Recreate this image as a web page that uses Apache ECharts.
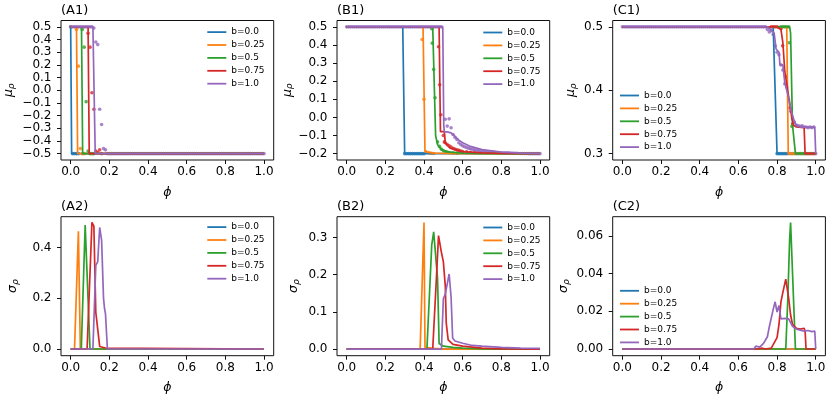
<!DOCTYPE html>
<html><head><meta charset="utf-8">
<script src="https://cdn.jsdelivr.net/npm/echarts@6/dist/echarts.min.js"></script>
<style>html,body{margin:0;padding:0;background:#fff}#c{width:830px;height:399px}</style>
</head><body><div id="c"></div>
<script>
// ---------------- DATA ----------------
const bLabels = ['b=0.0', 'b=0.25', 'b=0.5', 'b=0.75', 'b=1.0'];
const bColors = ['#1f77b4', '#ff7f0e', '#2ca02c', '#d62728', '#9467bd'];
const panelTitles = ['(A1)', '(B1)', '(C1)', '(A2)', '(B2)', '(C2)'];
const xTicks = [0, 0.2, 0.4, 0.6, 0.8, 1.0];
const A1_yTicks = [-0.5, -0.4, -0.3, -0.2, -0.1, 0, 0.1, 0.2, 0.3, 0.4, 0.5];
const B1_yTicks = [-0.2, -0.1, 0, 0.1, 0.2, 0.3, 0.4, 0.5];
const C1_yTicks = [0.3, 0.4, 0.5];
const A2_yTicks = [0, 0.2, 0.4];
const B2_yTicks = [0, 0.1, 0.2, 0.3];
const C2_yTicks = [0, 0.02, 0.04, 0.06];

// (A1) mu_rho lines
const A1_lines = [
  [[0,0.5],[0.005,-0.5],[1,-0.5]],
  [[0,0.5],[0.03,0.5],[0.036,-0.5],[1,-0.5]],
  [[0,0.5],[0.056,0.5],[0.062,-0.5],[1,-0.5]],
  [[0,0.5],[0.09,0.5],[0.096,-0.5],[1,-0.5]],
  [[0,0.5],[0.115,0.5],[0.12,0.49],[0.127,-0.5],[1,-0.5]]
];
// (A1) mu_rho dots
const A1_dots = [
  [[0,0.5],[0.01,-0.5],[0.02,-0.5],[0.03,-0.5],[0.04,-0.5]],
  [[0.03,0.48],[0.04,0.19],[0.05,-0.46],[0.06,-0.5],[0.07,-0.5]],
  [[0.06,0.48],[0.07,0.34],[0.08,-0.09],[0.09,-0.48],[0.1,-0.5],[0.11,-0.5],[0.12,-0.5]],
  [[0.09,0.45],[0.1,0.34],[0.11,-0.02],[0.12,-0.15],[0.13,-0.48],[0.14,-0.49],[0.15,-0.47],[0.16,-0.5]],
  [[0,0.5],[0.01,0.5],[0.02,0.5],[0.03,0.5],[0.04,0.5],[0.05,0.5],[0.06,0.5],[0.07,0.5],[0.08,0.5],[0.09,0.5],[0.1,0.5],[0.11,0.5],[0.12,0.49],[0.13,0.38],[0.14,0.36],[0.15,-0.15],[0.16,-0.27],[0.17,-0.46],[0.18,-0.47],
   [0.19,-0.5],[0.2,-0.5],[0.21,-0.5],[0.22,-0.5],[0.23,-0.5],[0.24,-0.5],[0.25,-0.5],[0.26,-0.5],[0.27,-0.5],[0.28,-0.5],[0.29,-0.5],[0.3,-0.5],[0.31,-0.5],[0.32,-0.5],[0.33,-0.5],[0.34,-0.5],[0.35,-0.5],[0.36,-0.5],[0.37,-0.5],[0.38,-0.5],[0.39,-0.5],[0.4,-0.5],[0.41,-0.5],[0.42,-0.5],[0.43,-0.5],[0.44,-0.5],[0.45,-0.5],[0.46,-0.5],[0.47,-0.5],[0.48,-0.5],[0.49,-0.5],[0.5,-0.5],[0.51,-0.5],[0.52,-0.5],[0.53,-0.5],[0.54,-0.5],[0.55,-0.5],[0.56,-0.5],[0.57,-0.5],[0.58,-0.5],[0.59,-0.5],[0.6,-0.5],[0.61,-0.5],[0.62,-0.5],[0.63,-0.5],[0.64,-0.5],[0.65,-0.5],[0.66,-0.5],[0.67,-0.5],[0.68,-0.5],[0.69,-0.5],[0.7,-0.5],[0.71,-0.5],[0.72,-0.5],[0.73,-0.5],[0.74,-0.5],[0.75,-0.5],[0.76,-0.5],[0.77,-0.5],[0.78,-0.5],[0.79,-0.5],[0.8,-0.5],[0.81,-0.5],[0.82,-0.5],[0.83,-0.5],[0.84,-0.5],[0.85,-0.5],[0.86,-0.5],[0.87,-0.5],[0.88,-0.5],[0.89,-0.5],[0.9,-0.5],[0.91,-0.5],[0.92,-0.5],[0.93,-0.5],[0.94,-0.5],[0.95,-0.5],[0.96,-0.5],[0.97,-0.5],[0.98,-0.5],[0.99,-0.5],[1,-0.5]]
];

// (B1) mu_rho lines
const B1_lines = [
  [[0,0.5],[0.29,0.5],[0.3,-0.2],[1,-0.2]],
  [[0,0.5],[0.395,0.5],[0.405,-0.185],[0.42,-0.193],[0.45,-0.197],[0.55,-0.2],[1,-0.2]],
  [[0,0.5],[0.445,0.5],[0.45,0.3],[0.455,0.1],[0.46,-0.1],[0.47,-0.15],[0.49,-0.178],[0.52,-0.19],[0.6,-0.197],[0.7,-0.2],[1,-0.2]],
  [[0,0.5],[0.478,0.5],[0.485,-0.078],[0.505,-0.078],[0.51,-0.14],[0.535,-0.17],[0.6,-0.189],[0.7,-0.196],[0.8,-0.199],[1,-0.2]],
  [[0,0.5],[0.497,0.5],[0.502,-0.04],[0.505,-0.08],[0.52,-0.08],[0.54,-0.085],[0.56,-0.105],[0.58,-0.125],[0.6,-0.14],[0.64,-0.16],[0.7,-0.178],[0.8,-0.191],[0.9,-0.197],[1,-0.2]]
];
// (B1) mu_rho dots
const B1_dots = [
  [[0.3,-0.2],[0.31,-0.2],[0.32,-0.2],[0.33,-0.2],[0.34,-0.2],[0.35,-0.2],[0.36,-0.2],[0.37,-0.2],[0.38,-0.2],[0.39,-0.2],[0.4,-0.2]],
  [[0.39,0.43],[0.4,0.1],[0.41,-0.19],[0.42,-0.195],[0.43,-0.197],[0.44,-0.198],[0.45,-0.199]],
  [[0.44,0.49],[0.443,0.41],[0.45,0.265],[0.457,0.108],[0.47,-0.135],[0.48,-0.16],[0.49,-0.175],[0.5,-0.183],[0.51,-0.188],[0.52,-0.191],[0.53,-0.194],[0.55,-0.196],[0.57,-0.198]],
  [[0.475,0.39],[0.481,0.18],[0.487,0.015],[0.5,-0.1],[0.505,-0.135],[0.51,-0.14],[0.52,-0.15],[0.53,-0.157],[0.54,-0.164],[0.55,-0.17],[0.56,-0.175],[0.57,-0.179],[0.58,-0.182],[0.59,-0.185],[0.6,-0.188],[0.62,-0.19],[0.64,-0.193],[0.66,-0.195]],
  [[0,0.5],[0.01,0.5],[0.02,0.5],[0.03,0.5],[0.04,0.5],[0.05,0.5],[0.06,0.5],[0.07,0.5],[0.08,0.5],[0.09,0.5],[0.1,0.5],[0.11,0.5],[0.12,0.5],[0.13,0.5],[0.14,0.5],[0.15,0.5],[0.16,0.5],[0.17,0.5],[0.18,0.5],[0.19,0.5],[0.2,0.5],[0.21,0.5],[0.22,0.5],[0.23,0.5],[0.24,0.5],[0.25,0.5],[0.26,0.5],[0.27,0.5],[0.28,0.5],[0.29,0.5],[0.3,0.5],[0.31,0.5],[0.32,0.5],[0.33,0.5],[0.34,0.5],[0.35,0.5],[0.36,0.5],[0.37,0.5],[0.38,0.5],[0.39,0.5],[0.4,0.5],[0.41,0.5],[0.42,0.5],[0.43,0.5],[0.44,0.5],[0.45,0.5],[0.46,0.5],[0.47,0.5],[0.48,0.5],[0.49,0.5],
   [0.51,-0.01],[0.52,-0.048],[0.53,-0.008],[0.54,-0.057],[0.55,-0.094],[0.56,-0.11],[0.57,-0.122],[0.58,-0.14],[0.59,-0.15],[0.6,-0.157],[0.61,-0.162],[0.62,-0.166],[0.63,-0.17],[0.64,-0.173],[0.65,-0.176],[0.66,-0.179],[0.67,-0.181],[0.68,-0.183],[0.69,-0.185],[0.7,-0.187],[0.71,-0.188],[0.72,-0.19],[0.73,-0.191],[0.74,-0.192],[0.75,-0.193],[0.76,-0.193],[0.77,-0.194],[0.78,-0.195],[0.79,-0.195],[0.8,-0.196],[0.81,-0.196],[0.82,-0.197],[0.83,-0.197],[0.84,-0.197],[0.85,-0.198],[0.86,-0.198],[0.87,-0.198],[0.88,-0.198],[0.89,-0.199],[0.9,-0.199],[0.91,-0.199],[0.92,-0.199],[0.93,-0.199],[0.94,-0.2],[0.95,-0.2],[0.96,-0.2],[0.97,-0.2],[0.98,-0.2],[0.99,-0.2],[1,-0.2]]
];

// (C1) mu_rho lines
const C1_lines = [
  [[0,0.5],[0.78,0.5],[0.8,0.3],[1,0.3]],
  [[0,0.5],[0.85,0.5],[0.858,0.3],[1,0.3]],
  [[0,0.5],[0.865,0.5],[0.87,0.49],[0.876,0.4],[0.88,0.345],[0.888,0.342],[0.895,0.3],[1,0.3]],
  [[0,0.5],[0.8,0.5],[0.82,0.496],[0.83,0.475],[0.84,0.43],[0.85,0.41],[0.865,0.38],[0.876,0.357],[0.885,0.345],[0.9,0.342],[0.94,0.341],[0.945,0.3],[1,0.3]],
  [[0,0.5],[0.75,0.5],[0.77,0.495],[0.785,0.49],[0.795,0.465],[0.81,0.46],[0.815,0.44],[0.83,0.44],[0.84,0.412],[0.85,0.41],[0.86,0.388],[0.87,0.372],[0.88,0.36],[0.89,0.35],[0.9,0.344],[0.92,0.342],[0.95,0.342],[0.995,0.342],[1,0.3]]
];
// (C1) mu_rho dots
const C1_dots = [
  [[0.8,0.3],[0.81,0.3],[0.82,0.3],[0.83,0.3],[0.84,0.3],[0.85,0.3]],
  [[0.86,0.3],[0.87,0.3],[0.88,0.3],[0.89,0.3]],
  [[0.82,0.5],[0.83,0.5],[0.84,0.5],[0.85,0.5],[0.86,0.5],[0.863,0.475],[0.877,0.343],[0.9,0.3],[0.91,0.3],[0.92,0.3],[0.93,0.3],[0.94,0.3]],
  [[0.77,0.5],[0.78,0.5],[0.79,0.5],[0.8,0.5],[0.81,0.499],[0.82,0.497],[0.829,0.47],[0.845,0.422],[0.867,0.372],[0.88,0.347],[0.95,0.3],[0.96,0.3],[0.97,0.3],[0.98,0.3],[0.99,0.3]],
  [[0,0.5],[0.01,0.5],[0.02,0.5],[0.03,0.5],[0.04,0.5],[0.05,0.5],[0.06,0.5],[0.07,0.5],[0.08,0.5],[0.09,0.5],[0.1,0.5],[0.11,0.5],[0.12,0.5],[0.13,0.5],[0.14,0.5],[0.15,0.5],[0.16,0.5],[0.17,0.5],[0.18,0.5],[0.19,0.5],[0.2,0.5],[0.21,0.5],[0.22,0.5],[0.23,0.5],[0.24,0.5],[0.25,0.5],[0.26,0.5],[0.27,0.5],[0.28,0.5],[0.29,0.5],[0.3,0.5],[0.31,0.5],[0.32,0.5],[0.33,0.5],[0.34,0.5],[0.35,0.5],[0.36,0.5],[0.37,0.5],[0.38,0.5],[0.39,0.5],[0.4,0.5],[0.41,0.5],[0.42,0.5],[0.43,0.5],[0.44,0.5],[0.45,0.5],[0.46,0.5],[0.47,0.5],[0.48,0.5],[0.49,0.5],[0.5,0.5],[0.51,0.5],[0.52,0.5],[0.53,0.5],[0.54,0.5],[0.55,0.5],[0.56,0.5],[0.57,0.5],[0.58,0.5],[0.59,0.5],[0.6,0.5],[0.61,0.5],[0.62,0.5],[0.63,0.5],[0.64,0.5],[0.65,0.5],[0.66,0.5],[0.67,0.5],[0.68,0.5],[0.69,0.5],[0.7,0.5],[0.71,0.5],[0.72,0.5],[0.73,0.5],[0.74,0.5],
   [0.75,0.496],[0.76,0.492],[0.77,0.494],[0.78,0.488],[0.79,0.47],[0.8,0.46],[0.81,0.456],[0.82,0.44],[0.83,0.432],[0.84,0.41],[0.85,0.405],[0.86,0.385],[0.87,0.367],[0.88,0.355],[0.89,0.35],[0.9,0.345],[0.91,0.344],[0.92,0.343],[0.93,0.344],[0.94,0.342],[0.95,0.342],[0.96,0.341],[0.97,0.342],[0.98,0.341],[0.99,0.342],[1,0.3]]
];

// (A2) sigma_rho lines
const A2_lines = [
  [[0,0],[1,0]],
  [[0,0],[0.02,0],[0.04,0.465],[0.05,0],[1,0]],
  [[0,0],[0.055,0],[0.075,0.49],[0.08,0.495],[0.1,0],[1,0]],
  [[0,0],[0.085,0],[0.11,0.5],[0.12,0.485],[0.13,0.145],[0.14,0.145],[0.15,0.01],[0.18,0.004],[0.19,0],[1,0]],
  [[0,0],[0.115,0],[0.13,0.33],[0.14,0.345],[0.15,0.48],[0.16,0.43],[0.17,0.2],[0.175,0.16],[0.18,0.14],[0.19,0],[1,0]]
];
// (B2) sigma_rho lines
const B2_lines = [
  [[0,0],[1,0]],
  [[0,0],[0.38,0],[0.4,0.34],[0.405,0.005],[0.45,0.002],[0.5,0],[1,0]],
  [[0,0],[0.415,0],[0.44,0.28],[0.45,0.315],[0.46,0.318],[0.47,0.19],[0.478,0.015],[0.5,0.008],[0.55,0.005],[0.6,0.003],[0.7,0.001],[0.8,0],[1,0]],
  [[0,0],[0.445,0],[0.465,0.2],[0.475,0.305],[0.48,0.3],[0.49,0.26],[0.5,0.235],[0.51,0.17],[0.515,0.07],[0.525,0.025],[0.55,0.013],[0.6,0.008],[0.7,0.003],[0.8,0.001],[1,0]],
  [[0,0],[0.49,0],[0.5,0.135],[0.51,0.148],[0.52,0.15],[0.53,0.202],[0.54,0.14],[0.548,0.03],[0.56,0.022],[0.6,0.016],[0.65,0.01],[0.7,0.008],[0.8,0.005],[0.9,0.003],[1,0.002]]
];
// (C2) sigma_rho lines
const C2_lines = [
  [[0,0],[1,0]],
  [[0,0],[1,0]],
  [[0,0],[0.845,0],[0.855,0.025],[0.865,0.058],[0.87,0.067],[0.895,0],[1,0]],
  [[0,0],[0.7,0],[0.72,0.0005],[0.74,0],[0.77,0.0005],[0.78,0.001],[0.8,0.006],[0.81,0.013],[0.82,0.025],[0.83,0.03],[0.845,0.037],[0.85,0.038],[0.86,0.027],[0.87,0.018],[0.88,0.013],[0.9,0.011],[0.92,0.0105],[0.93,0.01],[0.94,0.011],[0.945,0.0095],[0.95,0],[1,0]],
  [[0,0],[0.64,0],[0.65,0.0008],[0.66,0],[0.68,0],[0.69,0.0015],[0.7,0.0005],[0.71,0.001],[0.72,0.0005],[0.73,0.003],[0.74,0.004],[0.75,0.0065],[0.76,0.0118],[0.77,0.0118],[0.78,0.021],[0.79,0.025],[0.8,0.0196],[0.81,0.023],[0.82,0.016],[0.83,0.0165],[0.84,0.0162],[0.85,0.017],[0.86,0.016],[0.87,0.0153],[0.88,0.012],[0.89,0.011],[0.9,0.0105],[0.91,0.0102],[0.92,0.01],[0.93,0.0098],[0.94,0.0095],[0.95,0.0092],[0.96,0.0098],[0.97,0.0101],[0.98,0.0092],[0.99,0.0098],[0.995,0.0095],[1,0]]
];

// ---------------- LAYOUT ----------------
const FONT = 'DejaVu Sans';
const gridLefts = [61, 337, 612.7];
const gridTops = [20.5, 216.7];
const gridW = 212.7, gridHs = [139.5, 139];
const panels = [
  {lines: A1_lines, dots: A1_dots, yTicks: A1_yTicks, yMin: -0.55, yMax: 0.55, dec: 1, sym: 'μ', gap: 45, legL: 207.3, legT: 27.6},
  {lines: B1_lines, dots: B1_dots, yTicks: B1_yTicks, yMin: -0.235, yMax: 0.535, dec: 1, sym: 'μ', gap: 42, legL: 483.3, legT: 28},
  {lines: C1_lines, dots: C1_dots, yTicks: C1_yTicks, yMin: 0.29, yMax: 0.51, dec: 1, sym: 'μ', gap: 35, legL: 620, legT: 91},
  {lines: A2_lines, dots: null, yTicks: A2_yTicks, yMin: -0.0265, yMax: 0.5225, dec: 1, sym: 'σ', gap: 41, legL: 207.3, legT: 222.6},
  {lines: B2_lines, dots: null, yTicks: B2_yTicks, yMin: -0.0175, yMax: 0.3557, dec: 1, sym: 'σ', gap: 36, legL: 483.3, legT: 223},
  {lines: C2_lines, dots: null, yTicks: C2_yTicks, yMin: -0.00355, yMax: 0.0701, dec: 2, sym: 'σ', gap: 42, legL: 620, legT: 286.3}
];

function fmt(v, d) {
  const s = Math.abs(v).toFixed(d);
  return (v < -1e-9 ? '\u2212' : '') + s;
}

const grid = [], xAxis = [], yAxis = [], series = [], legend = [], title = [];
panels.forEach((p, i) => {
  const col = i % 3, row = Math.floor(i / 3);
  grid.push({left: gridLefts[col], top: gridTops[row], width: gridW, height: gridHs[row],
    show: true, borderColor: '#111', borderWidth: 1, backgroundColor: 'transparent', containLabel: false});
  xAxis.push({type: 'value', gridIndex: i, min: -0.05, max: 1.05, position: 'bottom',
    axisLine: {show: false, onZero: false},
    axisTick: {show: true, inside: false, length: 4, customValues: xTicks, lineStyle: {color: '#111', width: 1}},
    axisLabel: {customValues: xTicks, formatter: v => fmt(v, 1), fontSize: 12, fontFamily: FONT, color: '#000', margin: 6},
    splitLine: {show: false},
    name: 'ϕ', nameLocation: 'middle', nameGap: 26,
    nameTextStyle: {fontFamily: FONT, fontSize: 12.5, fontStyle: 'italic', color: '#000'}
  });
  yAxis.push({type: 'value', gridIndex: i, min: p.yMin, max: p.yMax, position: 'left',
    axisLine: {show: false, onZero: false},
    axisTick: {show: true, inside: false, length: 4, customValues: p.yTicks, lineStyle: {color: '#111', width: 1}},
    axisLabel: {customValues: p.yTicks, formatter: v => fmt(v, p.dec), fontSize: 12, fontFamily: FONT, color: '#000', margin: 9.5},
    splitLine: {show: false},
    name: '{m|' + p.sym + '}{s|ρ}', nameLocation: 'middle', nameGap: p.gap, nameRotate: 90,
    nameTextStyle: {fontFamily: FONT, color: '#000', rich: {
      m: {fontFamily: FONT, fontSize: 12.5, fontStyle: 'italic', color: '#000', lineHeight: 14},
      s: {fontFamily: FONT, fontSize: 9, fontStyle: 'italic', color: '#000', lineHeight: 8, verticalAlign: 'bottom'}
    }}
  });
  title.push({text: panelTitles[i], left: gridLefts[col], top: gridTops[row] - 16.5, padding: 0,
    textStyle: {fontFamily: FONT, fontSize: 13, fontWeight: 'normal', color: '#000'}});
  legend.push({data: bLabels, orient: 'vertical', left: p.legL, top: p.legT, padding: 0,
    icon: 'rect', itemWidth: 19, itemHeight: 1.8, itemGap: 3.9, selectedMode: false,
    textStyle: {fontFamily: FONT, fontSize: 9, color: '#000', lineHeight: 9}});
  bLabels.forEach((lab, k) => {
    series.push({type: 'line', name: lab, xAxisIndex: i, yAxisIndex: i, data: p.lines[k],
      showSymbol: false, symbol: 'none', silent: true,
      lineStyle: {width: 1.7, color: bColors[k]}, itemStyle: {color: bColors[k]}});
    if (p.dots) {
      series.push({type: 'scatter', name: lab + ' pts', xAxisIndex: i, yAxisIndex: i, data: p.dots[k],
        symbol: 'circle', symbolSize: 3.6, silent: true, itemStyle: {color: bColors[k]}});
    }
  });
});

const chart = echarts.init(document.getElementById('c'), null, {renderer: 'canvas'});
chart.setOption({animation: false, backgroundColor: '#fff', title, legend, grid, xAxis, yAxis, series});
</script>
</body></html>
